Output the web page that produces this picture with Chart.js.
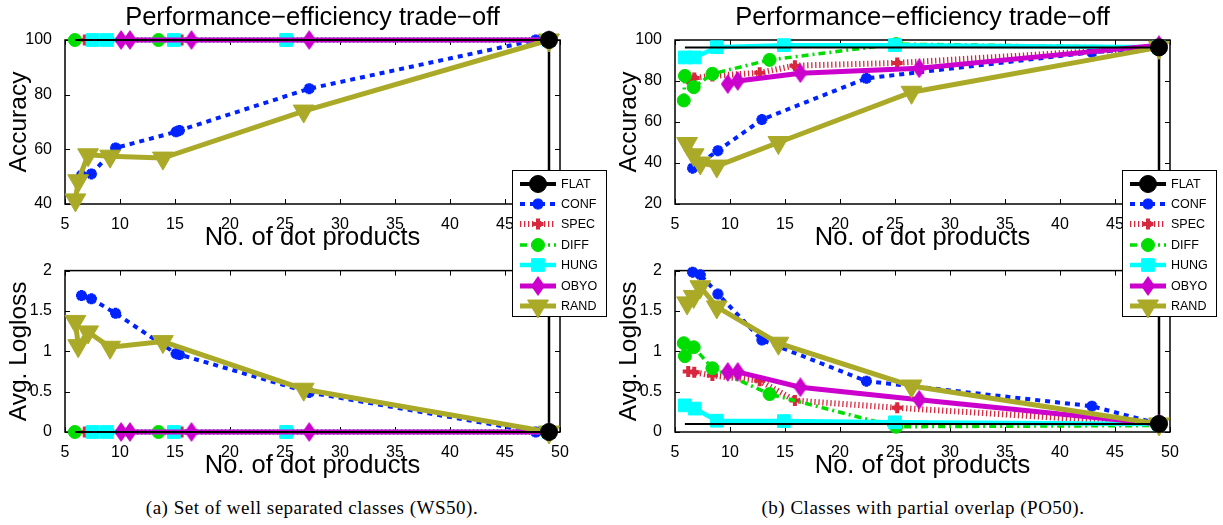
<!DOCTYPE html>
<html>
<head>
<meta charset="utf-8">
<script src="https://cdn.jsdelivr.net/npm/chart.js@4.4.1/dist/chart.umd.min.js"></script>
<style>
  html, body { margin: 0; padding: 0; background: #fff; }
  body { width: 1223px; height: 525px; position: relative; overflow: hidden; font-family: 'Liberation Sans', Arial, sans-serif; }
  canvas.panel { position: absolute; }
  .legend { position: absolute; top: 170px; width: 95px; height: 147px; box-sizing: border-box; border: 1px solid #000; background: #fff; }
  .legend canvas { position: absolute; left: 5px; }
  .legend span { position: absolute; left: 48px; font-size: 12.5px; line-height: 16px; color: #000; }
  .caption { position: absolute; top: 497px; width: 600px; text-align: center; line-height: 22px;
             font-family: 'Liberation Serif', 'Times New Roman', serif; font-size: 19px; letter-spacing: 0.5px; color: #000; }
</style>
</head>
<body>
<canvas id="wsAcc" class="panel" width="610" height="256" style="left:0;top:0"></canvas>
<canvas id="wsLoss" class="panel" width="610" height="228" style="left:0;top:256px"></canvas>
<canvas id="poAcc" class="panel" width="613" height="256" style="left:610px;top:0"></canvas>
<canvas id="poLoss" class="panel" width="613" height="228" style="left:610px;top:256px"></canvas>
<div id="legendWs" class="legend" style="left:512px"></div>
<div id="legendPo" class="legend" style="left:1122px"></div>
<div class="caption" style="left:12px">(a) Set of well separated classes (WS50).</div>
<div class="caption" style="left:623px">(b) Classes with partial overlap (PO50).</div>

<script>
const methods = ['FLAT', 'CONF', 'SPEC', 'DIFF', 'HUNG', 'OBYO', 'RAND'];
const dotTicks = [5, 10, 15, 20, 25, 30, 35, 40, 45, 50];
const wsAccTicks = [40, 60, 80, 100];
const poAccTicks = [20, 40, 60, 80, 100];
const lossTicks = [0, 0.5, 1, 1.5, 2];

// WS50 - well separated classes
const wsFlatDots = [5.9, 49];
const wsFlatAcc = [100, 100];
const wsFlatLoss = [0, 0];
const wsConfDots = [6.5, 7.4, 9.6, 15.1, 15.4, 27.2, 47.8];
const wsConfAcc = [50.5, 51, 60.5, 66.4, 66.9, 82.2, 100];
const wsConfLoss = [1.69, 1.65, 1.47, 0.97, 0.96, 0.49, 0];
const wsSpecDots = [6.8, 10.1, 15.6, 49];
const wsSpecAcc = [100, 100, 100, 100];
const wsSpecLoss = [0, 0, 0, 0];
const wsDiffDots = [5.9, 13.5, 25.1, 49];
const wsDiffAcc = [100, 100, 100, 100];
const wsDiffLoss = [0, 0, 0, 0];
const wsHungDots = [7.5, 8.8, 14.9, 25.1, 49];
const wsHungAcc = [100, 100, 100, 100, 100];
const wsHungLoss = [0, 0, 0, 0, 0];
const wsObyoDots = [10.1, 10.9, 16.5, 27.2, 49];
const wsObyoAcc = [100, 100, 100, 100, 100];
const wsObyoLoss = [0, 0, 0, 0, 0];
const wsRandDots = [5.95, 6.2, 7.1, 9.1, 13.9, 26.7, 49];
const wsRandAcc = [41.5, 48.5, 58, 57.5, 56.8, 74, 100];
const wsRandLoss = [1.37, 1.07, 1.24, 1.05, 1.12, 0.53, 0];

// PO50 - partial overlap
const poFlatDots = [5.9, 49];
const poFlatAcc = [96.4, 96.4];
const poFlatLoss = [0.1, 0.1];
const poConfDots = [6.6, 7.3, 8.9, 12.9, 22.4, 42.9, 49];
const poConfAcc = [37.5, 40, 46, 61.2, 81.3, 94, 96.4];
const poConfLoss = [1.98, 1.95, 1.71, 1.14, 0.63, 0.32, 0.1];
const poSpecDots = [6.2, 6.75, 8.4, 12.7, 15.9, 25.2, 49];
const poSpecAcc = [81, 81.5, 82.5, 84, 87.5, 88.8, 96.4];
const poSpecLoss = [0.75, 0.74, 0.7, 0.635, 0.39, 0.3, 0.1];
const poDiffDots = [5.8, 5.9, 6.7, 8.4, 13.6, 25.1, 49];
const poDiffAcc = [70.5, 82.5, 77, 83.5, 90.3, 98, 96.4];
const poDiffLoss = [1.1, 0.94, 1.05, 0.79, 0.47, 0.065, 0.08];
const poHungDots = [5.9, 6.8, 8.8, 14.9, 25, 49];
const poHungAcc = [91.5, 91.5, 96.5, 97.5, 97.5, 96.5];
const poHungLoss = [0.33, 0.29, 0.14, 0.135, 0.12, 0.1];
const poObyoDots = [9.8, 10.7, 16.4, 27.2, 49];
const poObyoAcc = [78.5, 80, 83.8, 86.2, 97.5];
const poObyoLoss = [0.745, 0.745, 0.555, 0.4, 0.1];
const poRandDots = [6.1, 6.7, 7.3, 8.8, 14.4, 26.5, 49];
const poRandAcc = [49.5, 44, 40, 38.5, 50, 74.5, 96.4];
const poRandLoss = [1.6, 1.68, 1.8, 1.55, 1.1, 0.57, 0.1];

// tall diamond marker (matlab 'd' is taller than wide)
function diamond(color, w, h) {
    const c = document.createElement('canvas');
    c.width = w;
    c.height = h;
    const g = c.getContext('2d');
    g.fillStyle = color;
    g.beginPath();
    g.moveTo(w / 2, 0);
    g.lineTo(w, h / 2);
    g.lineTo(w / 2, h);
    g.lineTo(0, h / 2);
    g.closePath();
    g.fill();
    return c;
}

const styles = {
    FLAT: { color: '#000000', width: 2, legendWidth: 4, dash: [], point: 'circle', radius: 8.5, order: 0 },
    CONF: { color: '#0022ff', width: 4, dash: [5, 5], point: 'star', radius: 5.5, pointBorder: 3.5, order: 6 },
    SPEC: { color: '#d8283e', width: 6, dash: [1.3, 2.7], point: 'cross', radius: 5.5, pointBorder: 4, order: 5 },
    DIFF: { color: '#00dd00', width: 3.5, dash: [7, 4, 2, 4], point: 'circle', radius: 6.5, order: 4 },
    HUNG: { color: '#00ffff', width: 4.5, dash: [], point: 'rect', radius: 9, order: 3 },
    OBYO: { color: '#cc00cc', width: 5, dash: [], point: diamond('#cc00cc', 14, 20), radius: 7, order: 2 },
    RAND: { color: '#aaaa28', width: 5, dash: [], point: 'triangle', rotation: 180, radius: 12, order: 1 }
};

Chart.defaults.font.family = "'Liberation Sans', Arial, Helvetica, sans-serif";
Chart.defaults.color = '#000';

// box with inward ticks on all four sides
const axesBox = {
    id: 'axesBox',
    beforeDatasetsDraw(chart) {
        const { ctx, chartArea: a, scales: { x, y } } = chart;
        ctx.save();
        ctx.strokeStyle = '#000';
        ctx.lineWidth = 1;
        ctx.beginPath();
        x.ticks.forEach(t => {
            const p = Math.round(x.getPixelForValue(t.value)) + 0.5;
            ctx.moveTo(p, a.bottom); ctx.lineTo(p, a.bottom - 5);
            ctx.moveTo(p, a.top); ctx.lineTo(p, a.top + 5);
        });
        y.ticks.forEach(t => {
            const p = Math.round(y.getPixelForValue(t.value)) + 0.5;
            ctx.moveTo(a.left, p); ctx.lineTo(a.left + 5, p);
            ctx.moveTo(a.right, p); ctx.lineTo(a.right - 5, p);
        });
        ctx.stroke();
        ctx.lineWidth = 1.5;
        ctx.strokeRect(a.left, a.top, a.right - a.left, a.bottom - a.top);
        ctx.restore();
    }
};

const panelTitle = {
    id: 'panelTitle',
    afterDraw(chart, args, opts) {
        if (!opts.text) return;
        const { ctx, chartArea: a } = chart;
        ctx.save();
        ctx.font = "25.5px 'Liberation Sans', Arial, sans-serif";
        ctx.fillStyle = '#000';
        ctx.textAlign = 'center';
        ctx.textBaseline = 'alphabetic';
        ctx.fillText(opts.text, (a.left + a.right) / 2, 25);
        ctx.restore();
    }
};

// vertical FLAT line joining the accuracy and logloss panels
const flatLink = {
    id: 'flatLink',
    beforeDatasetsDraw(chart, args, opts) {
        const meta = chart.getDatasetMeta(0);
        const end = meta.data[meta.data.length - 1];
        if (!end) return;
        const ctx = chart.ctx;
        ctx.save();
        ctx.strokeStyle = '#000';
        ctx.lineWidth = 2.5;
        ctx.beginPath();
        ctx.moveTo(end.x, end.y);
        ctx.lineTo(end.x, opts.dir === 'down' ? chart.height : 0);
        ctx.stroke();
        ctx.restore();
    }
};

function panel(id, series, yTicks, yLabel, title, padRight, padTop, dir) {
    const datasets = methods.map((name, i) => {
        const st = styles[name];
        const [dots, vals] = series[i];
        const last = dots.length - 1;
        return {
            label: name,
            data: dots.map((x, k) => ({ x: x, y: vals[k] })),
            showLine: true,
            borderColor: st.color,
            backgroundColor: st.color,
            borderWidth: st.width,
            borderDash: st.dash,
            pointStyle: st.point,
            pointRotation: st.rotation || 0,
            pointRadius: name === 'FLAT' ? c => (c.dataIndex === last ? st.radius : 0) : st.radius,
            pointBorderWidth: st.pointBorder || 1,
            pointBackgroundColor: st.color,
            pointBorderColor: st.color,
            order: st.order,
            clip: false,
            tension: 0
        };
    });

    return new Chart(document.getElementById(id), {
        type: 'scatter',
        data: { datasets },
        options: {
            responsive: false,
            animation: false,
            events: [],
            layout: { padding: { top: padTop, right: padRight, bottom: 0, left: 0 } },
            plugins: {
                legend: { display: false },
                tooltip: { enabled: false },
                panelTitle: { text: title },
                flatLink: { dir: dir }
            },
            scales: {
                x: {
                    type: 'linear',
                    min: dotTicks[0],
                    max: dotTicks[dotTicks.length - 1],
                    afterBuildTicks: s => { s.ticks = dotTicks.map(v => ({ value: v })); },
                    afterFit: s => { s.height = 52; },
                    grid: { display: false },
                    border: { display: false },
                    ticks: { font: { size: 16 }, padding: 3, maxRotation: 0, autoSkip: false, callback: v => String(v) },
                    title: { display: true, text: 'No. of dot products', font: { size: 25.5 }, padding: { top: 0, bottom: 3 } }
                },
                y: {
                    type: 'linear',
                    min: yTicks[0],
                    max: yTicks[yTicks.length - 1],
                    afterBuildTicks: s => { s.ticks = yTicks.map(v => ({ value: v })); },
                    afterFit: s => { s.width = 65; },
                    grid: { display: false },
                    border: { display: false },
                    ticks: { font: { size: 16 }, padding: 5, autoSkip: false, callback: v => String(v) },
                    title: { display: true, text: yLabel, font: { size: 24.5 }, padding: { top: 5, bottom: 0 } }
                }
            }
        },
        plugins: [axesBox, panelTitle, flatLink]
    });
}

const perfTitle = 'Performance\u2212efficiency trade\u2212off';

panel('wsAcc', [
    [wsFlatDots, wsFlatAcc], [wsConfDots, wsConfAcc], [wsSpecDots, wsSpecAcc], [wsDiffDots, wsDiffAcc],
    [wsHungDots, wsHungAcc], [wsObyoDots, wsObyoAcc], [wsRandDots, wsRandAcc]
], wsAccTicks, 'Accuracy', perfTitle, 50, 40, 'down');

panel('wsLoss', [
    [wsFlatDots, wsFlatLoss], [wsConfDots, wsConfLoss], [wsSpecDots, wsSpecLoss], [wsDiffDots, wsDiffLoss],
    [wsHungDots, wsHungLoss], [wsObyoDots, wsObyoLoss], [wsRandDots, wsRandLoss]
], lossTicks, 'Avg. Logloss', null, 50, 12, 'up');

panel('poAcc', [
    [poFlatDots, poFlatAcc], [poConfDots, poConfAcc], [poSpecDots, poSpecAcc], [poDiffDots, poDiffAcc],
    [poHungDots, poHungAcc], [poObyoDots, poObyoAcc], [poRandDots, poRandAcc]
], poAccTicks, 'Accuracy', perfTitle, 53, 40, 'down');

panel('poLoss', [
    [poFlatDots, poFlatLoss], [poConfDots, poConfLoss], [poSpecDots, poSpecLoss], [poDiffDots, poDiffLoss],
    [poHungDots, poHungLoss], [poObyoDots, poObyoLoss], [poRandDots, poRandLoss]
], lossTicks, 'Avg. Logloss', null, 53, 12, 'up');

// legend rows: line sample with marker, then the method name
function buildLegend(boxId) {
    const box = document.getElementById(boxId);
    methods.forEach((name, i) => {
        const st = styles[name];
        const cy = 12.5 + 20.4 * i;
        const c = document.createElement('canvas');
        c.width = 44;
        c.height = 28;
        c.style.top = (cy - 14) + 'px';
        const g = c.getContext('2d');
        g.strokeStyle = st.color;
        g.fillStyle = st.color;
        g.lineWidth = st.legendWidth || st.width;
        g.setLineDash(st.dash);
        g.beginPath();
        g.moveTo(2, 14);
        g.lineTo(38, 14);
        g.stroke();
        g.setLineDash([]);
        g.lineWidth = st.pointBorder || 1;
        Chart.helpers.drawPoint(g, {
            pointStyle: st.point, rotation: st.rotation || 0, radius: st.radius, borderWidth: st.pointBorder || 1
        }, 20, 14);
        box.appendChild(c);
        const label = document.createElement('span');
        label.textContent = name;
        label.style.top = (cy - 8) + 'px';
        box.appendChild(label);
    });
}
buildLegend('legendWs');
buildLegend('legendPo');
</script>
</body>
</html>
